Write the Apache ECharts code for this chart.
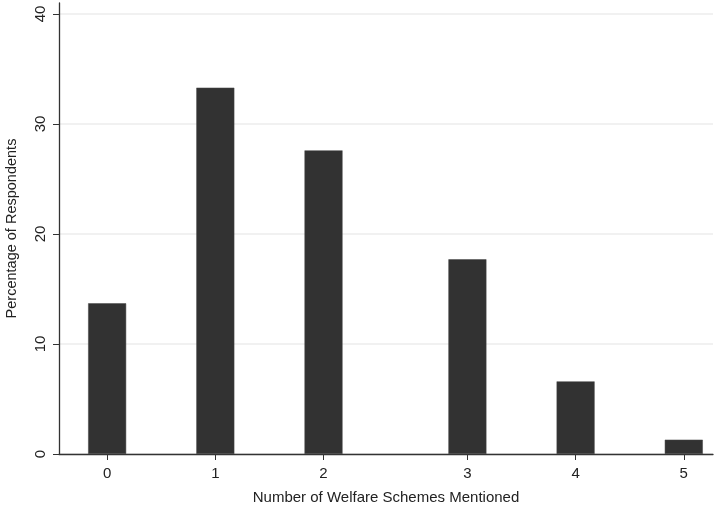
<!DOCTYPE html>
<html>
<head>
<meta charset="utf-8">
<script src="https://cdn.jsdelivr.net/npm/echarts@6/dist/echarts.min.js"></script>
<style>
  html, body { margin: 0; padding: 0; background: #fff; }
  #chart { width: 718px; height: 507px; }
</style>
</head>
<body>
<div id="chart"></div>
<script>
  // number of schemes mentioned (tick labels)
  const categories = ['0', '1', '2', '3', '4', '5'];
  // where each bar sits on the x scale (the original leaves a wider gap before 3)
  const xPositions = [0, 1, 2, 3.33, 4.33, 5.33];
  // percentage of respondents
  const percentages = [13.7, 33.3, 27.6, 17.7, 6.6, 1.3];
  const yTicks = [0, 10, 20, 30, 40];

  const labelFor = v => {
    let best = 0;
    xPositions.forEach((p, i) => {
      if (Math.abs(p - v) < Math.abs(xPositions[best] - v)) best = i;
    });
    return categories[best];
  };

  const chart = echarts.init(document.getElementById('chart'));

  const option = {
    backgroundColor: '#fff',
    animation: false,
    textStyle: { fontFamily: 'Liberation Sans, Arial, sans-serif' },
    grid: { left: 59, right: 5, top: 3, bottom: 53, outerBoundsMode: 'none', containLabel: false },
    xAxis: {
      type: 'value',
      min: -0.445,
      max: 5.6,
      name: 'Number of Welfare Schemes Mentioned',
      nameLocation: 'middle',
      nameGap: 36,
      nameTextStyle: { fontSize: 15, color: '#222' },
      axisLine: { onZero: false, lineStyle: { color: '#333', width: 1.3 } },
      axisTick: { show: true, length: 6, customValues: xPositions, lineStyle: { color: '#333' } },
      axisLabel: {
        customValues: xPositions,
        formatter: v => labelFor(v),
        fontSize: 15,
        color: '#222',
        margin: 12
      },
      splitLine: { show: false }
    },
    yAxis: {
      type: 'value',
      min: 0,
      max: 41,
      name: 'Percentage of Respondents',
      nameLocation: 'middle',
      nameGap: 40,
      nameTextStyle: { fontSize: 14.5, color: '#222' },
      axisLine: { show: true, onZero: false, lineStyle: { color: '#333', width: 1.3 } },
      axisTick: { show: true, length: 6, customValues: yTicks, lineStyle: { color: '#333' } },
      axisLabel: {
        customValues: yTicks,
        rotate: 90,
        fontSize: 15,
        color: '#222',
        margin: 11
      },
      splitLine: { show: true, lineStyle: { color: '#ececec', width: 1.5 } }
    },
    series: [
      {
        type: 'bar',
        barWidth: 38,
        itemStyle: { color: '#323232', borderColor: '#444', borderWidth: 0.5 },
        data: xPositions.map((x, i) => [x, percentages[i]])
      }
    ]
  };

  chart.setOption(option);
</script>
</body>
</html>
